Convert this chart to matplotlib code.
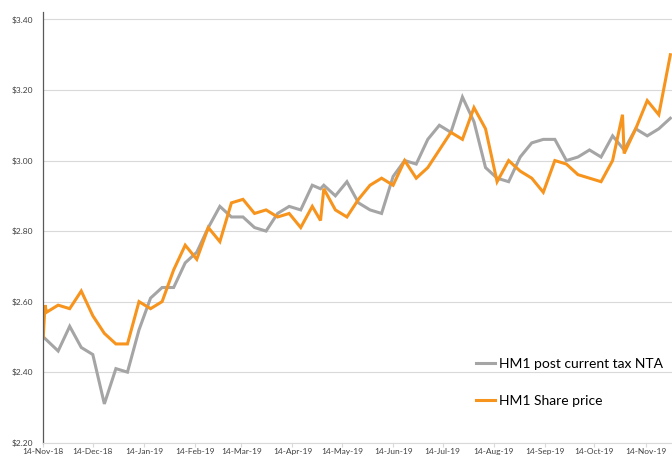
import numpy as np
import pandas as pd
import matplotlib
matplotlib.use("Agg")
import matplotlib.pyplot as plt
import matplotlib.dates as mdates
from matplotlib.ticker import FuncFormatter

plt.rcParams["font.family"] = ["Lato", "DejaVu Sans"]

# weekly (Friday) observations, plus a few extra days where the lines kink
nta_dates = ["2018-11-14", "2018-11-23", "2018-11-30", "2018-12-07", "2018-12-14",
             "2018-12-21", "2018-12-28", "2019-01-04", "2019-01-11", "2019-01-18",
             "2019-01-25", "2019-02-01", "2019-02-08", "2019-02-15", "2019-02-22",
             "2019-03-01", "2019-03-08", "2019-03-15", "2019-03-22", "2019-03-29",
             "2019-04-05", "2019-04-12", "2019-04-19", "2019-04-26", "2019-05-01",
             "2019-05-03", "2019-05-10", "2019-05-17", "2019-05-24", "2019-05-31",
             "2019-06-07", "2019-06-14", "2019-06-21", "2019-06-28", "2019-07-05",
             "2019-07-12", "2019-07-19", "2019-07-26", "2019-08-02", "2019-08-09",
             "2019-08-16", "2019-08-23", "2019-08-30", "2019-09-06", "2019-09-13",
             "2019-09-20", "2019-09-27", "2019-10-04", "2019-10-11", "2019-10-18",
             "2019-10-25", "2019-11-01", "2019-11-08", "2019-11-15", "2019-11-22",
             "2019-11-29"]
nta_values = [2.50, 2.46, 2.53, 2.47, 2.45,
              2.31, 2.41, 2.40, 2.52, 2.61,
              2.64, 2.64, 2.71, 2.74, 2.81,
              2.87, 2.84, 2.84, 2.81, 2.80,
              2.85, 2.87, 2.86, 2.93, 2.92,
              2.93, 2.90, 2.94, 2.88, 2.86,
              2.85, 2.955, 3.00, 2.99, 3.06,
              3.10, 3.08, 3.18, 3.11, 2.98,
              2.95, 2.94, 3.01, 3.05, 3.06,
              3.06, 3.00, 3.01, 3.03, 3.01,
              3.07, 3.03, 3.09, 3.07, 3.09,
              3.12]

price_dates = ["2018-11-14", "2018-11-15", "2018-11-16", "2018-11-23", "2018-11-30",
               "2018-12-07", "2018-12-14", "2018-12-21", "2018-12-28", "2019-01-04",
               "2019-01-11", "2019-01-18", "2019-01-25", "2019-02-01", "2019-02-08",
               "2019-02-15", "2019-02-22", "2019-03-01", "2019-03-08", "2019-03-15",
               "2019-03-22", "2019-03-29", "2019-04-05", "2019-04-12", "2019-04-19",
               "2019-04-26", "2019-05-01", "2019-05-03", "2019-05-10", "2019-05-17",
               "2019-05-24", "2019-05-31", "2019-06-07", "2019-06-14", "2019-06-21",
               "2019-06-28", "2019-07-05", "2019-07-12", "2019-07-19", "2019-07-26",
               "2019-08-02", "2019-08-09", "2019-08-16", "2019-08-23", "2019-08-30",
               "2019-09-06", "2019-09-13", "2019-09-20", "2019-09-27", "2019-10-04",
               "2019-10-11", "2019-10-18", "2019-10-25", "2019-10-31", "2019-11-01",
               "2019-11-08", "2019-11-15", "2019-11-22", "2019-11-29"]
price_values = [2.50, 2.59, 2.57, 2.59, 2.58,
                2.63, 2.56, 2.51, 2.48, 2.48,
                2.60, 2.58, 2.60, 2.69, 2.76,
                2.72, 2.81, 2.77, 2.88, 2.89,
                2.85, 2.86, 2.84, 2.85, 2.81,
                2.87, 2.83, 2.92, 2.86, 2.84,
                2.89, 2.93, 2.95, 2.93, 3.00,
                2.95, 2.98, 3.03, 3.08, 3.06,
                3.15, 3.09, 2.94, 3.00, 2.97,
                2.95, 2.91, 3.00, 2.99, 2.96,
                2.95, 2.94, 3.00, 3.13, 3.02,
                3.09, 3.17, 3.13, 3.30]

labels = ["HM1 post current tax NTA", "HM1 Share price"]
grey = "#a5a5a5"
orange = "#f7941d"

fig = plt.figure(figsize=(6.72, 4.57), dpi=100)
ax = fig.add_axes([43.3 / 672, 14.3 / 457, (672 - 43.3) / 672, 431 / 457])

ax.plot(pd.to_datetime(nta_dates), nta_values, color=grey, lw=2.2,
        solid_joinstyle="miter", label=labels[0])
ax.plot(pd.to_datetime(price_dates), price_values, color=orange, lw=2.2,
        solid_joinstyle="miter", label=labels[1])

ax.set_ylim(2.2, 3.422)
ax.set_yticks(np.arange(2.2, 3.41, 0.2))
ax.yaxis.set_major_formatter(FuncFormatter(lambda v, p: f"${v:.2f}"))
ax.set_xlim(pd.Timestamp("2018-11-14"), pd.Timestamp("2019-11-30"))
ax.xaxis.set_major_locator(mdates.DayLocator(bymonthday=14))
ax.xaxis.set_major_formatter(mdates.DateFormatter("%d-%b-%y"))

ax.grid(axis="y", color="#d9d9d9", lw=0.8)
ax.set_axisbelow(True)
for s in ["top", "right"]:
    ax.spines[s].set_visible(False)
ax.spines["left"].set_color("#595959")
ax.spines["left"].set_linewidth(0.9)
ax.spines["bottom"].set_color("#d9d9d9")
ax.spines["bottom"].set_linewidth(0.8)

ax.tick_params(axis="y", length=0, pad=7, labelsize=6, labelcolor="#404040")
ax.tick_params(axis="x", length=3, width=0.8, color="#d9d9d9", pad=1,
               labelsize=6, labelcolor="#404040")

ax.legend(loc="upper left", bbox_to_anchor=(476 / 672, 1 - 358 / 457),
          bbox_transform=fig.transFigure, frameon=False, fontsize=10,
          handlelength=1.35, handletextpad=0.3, labelspacing=1.8,
          borderpad=0, borderaxespad=0)

fig.savefig("out.png", dpi=100)
